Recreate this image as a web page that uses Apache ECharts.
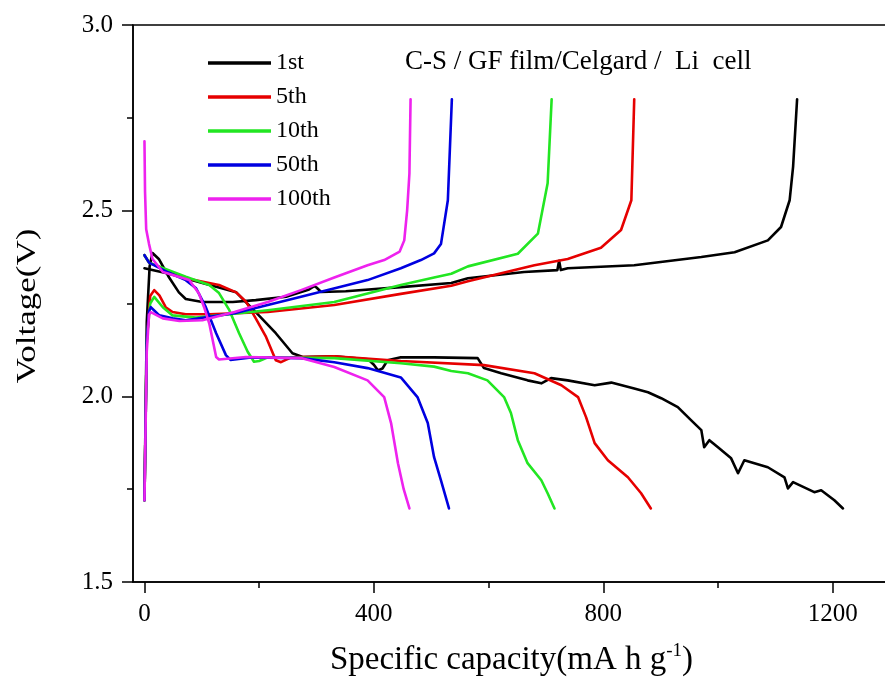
<!DOCTYPE html>
<html>
<head>
<meta charset="utf-8">
<script src="https://cdn.jsdelivr.net/npm/echarts@6/dist/echarts.min.js"></script>
<style>
  html, body { margin: 0; padding: 0; background: #fff; }
  #chart { width: 885px; height: 684px; }
</style>
</head>
<body>
<div id="chart"></div>
<script>
// capacity (mA h g-1), voltage (V) pairs
var cycleNames = ['1st', '5th', '10th', '50th', '100th'];
var cycleColors = ['#000000', '#e60000', '#22e622', '#0000e0', '#ee22ee'];

var discharge1st = [[0,2.345],[43,2.33],[101,2.305],[160,2.28],[194,2.227],[229,2.17],[258,2.116],[276,2.106],[331,2.108],[390,2.1],[400,2.085],[407,2.07],[415,2.075],[424,2.097],[447,2.105],[505,2.105],[581,2.103],[592,2.076],[622,2.062],[668,2.043],[692,2.035],[709,2.049],[738,2.043],[785,2.03],[814,2.037],[854,2.021],[878,2.011],[901,1.995],[930,1.971],[953,1.936],[971,1.909],[976,1.863],[985,1.882],[1000,1.863],[1023,1.833],[1035,1.793],[1046,1.828],[1087,1.809],[1116,1.782],[1122,1.752],[1131,1.769],[1168,1.742],[1180,1.747],[1203,1.72],[1218,1.698]];
var charge1st = [[0,1.72],[4,2.2],[9,2.35],[14,2.386],[25,2.37],[43,2.32],[60,2.28],[72,2.262],[101,2.254],[154,2.254],[194,2.259],[247,2.268],[287,2.288],[296,2.297],[300,2.293],[308,2.281],[351,2.283],[447,2.294],[535,2.305],[564,2.318],[662,2.335],[720,2.34],[723,2.365],[726,2.34],[738,2.345],[854,2.353],[971,2.375],[1029,2.388],[1087,2.42],[1110,2.456],[1125,2.528],[1131,2.618],[1138,2.8]];

var discharge5th = [[0,2.38],[8,2.36],[72,2.318],[130,2.3],[160,2.28],[177,2.255],[194,2.21],[212,2.16],[229,2.097],[238,2.092],[256,2.105],[331,2.108],[447,2.095],[592,2.084],[680,2.062],[727,2.03],[756,1.998],[770,1.944],[785,1.874],[808,1.828],[843,1.782],[866,1.739],[883,1.698]];
var charge5th = [[0,1.72],[4,2.15],[10,2.27],[17,2.286],[26,2.272],[37,2.24],[49,2.227],[72,2.221],[113,2.221],[215,2.227],[331,2.246],[447,2.276],[535,2.298],[564,2.31],[680,2.353],[738,2.37],[796,2.4],[831,2.448],[849,2.528],[854,2.8]];

var discharge10th = [[0,2.38],[8,2.36],[72,2.322],[113,2.3],[130,2.278],[148,2.232],[165,2.17],[180,2.12],[191,2.093],[200,2.095],[215,2.105],[331,2.103],[447,2.089],[505,2.08],[535,2.068],[564,2.062],[598,2.043],[627,1.998],[639,1.955],[651,1.882],[668,1.82],[692,1.774],[703,1.739],[715,1.698]];
var charge10th = [[0,1.72],[4,2.15],[10,2.25],[17,2.268],[32,2.24],[49,2.218],[90,2.212],[215,2.232],[331,2.254],[447,2.3],[505,2.32],[535,2.33],[564,2.35],[651,2.384],[686,2.438],[703,2.574],[710,2.8]];

var discharge50th = [[0,2.38],[8,2.36],[41,2.334],[72,2.313],[90,2.291],[107,2.24],[125,2.17],[142,2.111],[150,2.098],[186,2.105],[273,2.103],[331,2.092],[389,2.076],[447,2.051],[476,1.998],[494,1.928],[505,1.836],[517,1.774],[531,1.698]];
var charge50th = [[0,1.72],[4,2.15],[8,2.23],[11,2.24],[26,2.218],[49,2.21],[72,2.205],[157,2.224],[273,2.268],[389,2.313],[447,2.345],[482,2.367],[505,2.385],[517,2.41],[529,2.528],[536,2.8]];

var discharge100th = [[0,2.687],[1,2.55],[3,2.45],[8,2.41],[14,2.37],[32,2.335],[78,2.313],[95,2.277],[104,2.24],[113,2.196],[125,2.106],[130,2.099],[177,2.106],[273,2.103],[331,2.079],[389,2.043],[418,1.998],[430,1.928],[442,1.82],[452,1.75],[462,1.698]];
var charge100th = [[0,1.72],[4,2.12],[8,2.22],[11,2.227],[32,2.21],[61,2.203],[101,2.205],[157,2.227],[215,2.254],[273,2.286],[331,2.32],[389,2.353],[418,2.367],[445,2.39],[453,2.42],[458,2.5],[462,2.6],[464,2.8]];

var dischargeSets = [discharge1st, discharge5th, discharge10th, discharge50th, discharge100th];
var chargeSets = [charge1st, charge5th, charge10th, charge50th, charge100th];

var majorXTicks = [0, 400, 800, 1200];
var minorXTicks = [200, 600, 1000];

var serifFont = '"Liberation Serif", "DejaVu Serif", serif';

var series = [];
for (var i = 0; i < cycleNames.length; i++) {
  [dischargeSets[i], chargeSets[i]].forEach(function (pts) {
    series.push({
      name: cycleNames[i],
      type: 'line',
      data: pts,
      symbol: 'none',
      smooth: false,
      lineStyle: { color: cycleColors[i], width: 2.6, join: 'round', cap: 'round' },
      itemStyle: { color: cycleColors[i] },
      z: 2 + i
    });
  });
}

var chart = echarts.init(document.getElementById('chart'));
var option = {
  backgroundColor: '#fff',
  animation: false,
  grid: {
    left: 133, top: 25, width: 757, height: 557,
    outerBoundsMode: 'none',
    containLabel: false,
    show: true, borderColor: '#000', borderWidth: 1.5
  },
  legend: {
    orient: 'vertical',
    left: 203, top: 45,
    icon: 'rect',
    itemWidth: 63, itemHeight: 3.5,
    itemGap: 8,
    textStyle: { fontFamily: serifFont, fontSize: 24, color: '#000', lineHeight: 26 },
    data: cycleNames
  },
  xAxis: [{
    type: 'value',
    min: -20, max: 1300,
    name: 'Specific capacity(mA h g{sup|-1})',
    nameLocation: 'middle',
    nameGap: 60,
    nameTextStyle: {
      fontFamily: serifFont, fontSize: 33, color: '#000', lineHeight: 36,
      rich: { sup: { fontFamily: serifFont, fontSize: 19, color: '#000', verticalAlign: 'top', lineHeight: 36, padding: [0, 0, 16, 0] } }
    },
    axisLine: { show: true, onZero: false, lineStyle: { color: '#000', width: 1.5 } },
    axisTick: { show: true, length: 11, customValues: majorXTicks, lineStyle: { color: '#000', width: 1.5 } },
    axisLabel: {
      customValues: majorXTicks, margin: 20, fontFamily: serifFont, fontSize: 25, color: '#000',
      formatter: function (v) { return String(v); }
    },
    splitLine: { show: false }
  }, {
    type: 'value',
    min: -20, max: 1300,
    position: 'bottom',
    axisLine: { show: false },
    axisTick: { show: true, length: 6, customValues: minorXTicks, lineStyle: { color: '#000', width: 1.5 } },
    axisLabel: { show: false },
    splitLine: { show: false }
  }],
  yAxis: {
    type: 'value',
    min: 1.5, max: 3.0, interval: 0.5,
    axisLine: { show: true, onZero: false, lineStyle: { color: '#000', width: 1.5 } },
    axisTick: { show: true, length: 11, lineStyle: { color: '#000', width: 1.5 } },
    minorTick: { show: true, splitNumber: 2, length: 6, lineStyle: { color: '#000', width: 1.5 } },
    axisLabel: {
      margin: 20, fontFamily: serifFont, fontSize: 25, color: '#000',
      formatter: function (v) { return v.toFixed(1); }
    },
    splitLine: { show: false }
  },
  graphic: [{
    type: 'text',
    left: 405, top: 48,
    style: {
      text: 'C-S / GF film/Celgard /  Li  cell',
      font: '27px ' + serifFont,
      fill: '#000'
    }
  }, {
    // y axis title, stretched along its length like the original
    type: 'text',
    x: 28, y: 306,
    rotation: Math.PI / 2,
    scaleX: 1.25,
    style: {
      text: 'Voltage(V)',
      font: '28px ' + serifFont,
      fill: '#000',
      align: 'center',
      verticalAlign: 'middle'
    }
  }],
  series: series
};
chart.setOption(option);
</script>
</body>
</html>
